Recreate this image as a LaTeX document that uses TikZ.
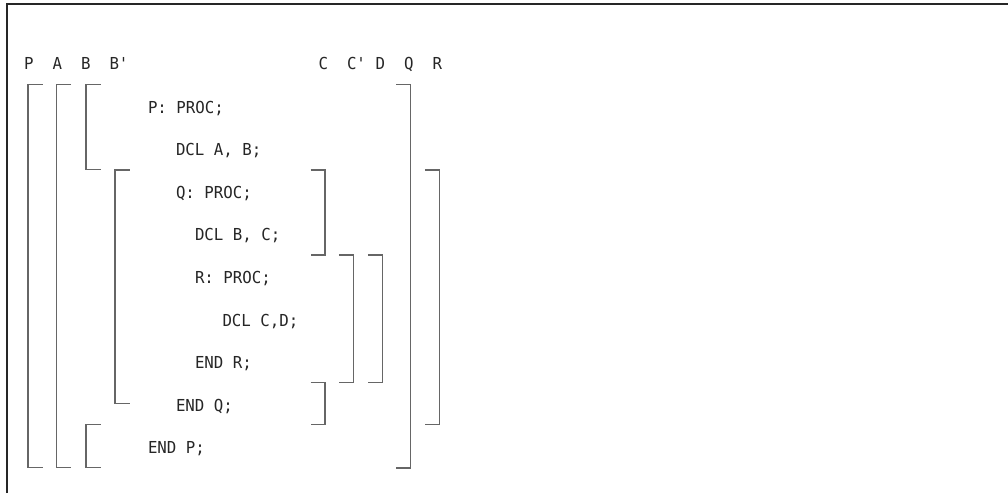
\documentclass[tikz,border=0pt]{standalone}
\usepackage{fontspec}
\newfontfamily\codefont[FakeStretch=0.955]{DejaVu Sans Mono}
\newcommand\LBrk[3]{\draw[brk] (#1+14.5,#2) -- (#1,#2) -- (#1,#3) -- (#1+14.5,#3);}
\newcommand\RBrk[3]{\draw[brk] (#1-14.5,#2) -- (#1,#2) -- (#1,#3) -- (#1-14.5,#3);}
\begin{document}
\begin{tikzpicture}[x=1pt,y=-1pt,
  txt/.style={font=\codefont\fontsize{16.5}{19}\selectfont, text=black!85, inner sep=0pt, outer sep=0pt, anchor=base west},
  brk/.style={draw=black!60, line width=1.3pt},
  frame/.style={draw=black!85, line width=2pt}]
\useasboundingbox (0,0) rectangle (1008,493);
\draw[frame] (7,493) -- (7,4) -- (1008,4);
% column labels
\node[txt] (lP)  at (24,69.8)    {P};
\node[txt] (lA)  at (52.5,69.8)  {A};
\node[txt] (lB)  at (81,69.8)    {B};
\node[txt] (lB2) at (109.5,69.8) {B'};
\node[txt] (lC)  at (318.5,69.8) {C};
\node[txt] (lC2) at (347,69.8)   {C'};
\node[txt] (lD)  at (375.5,69.8) {D};
\node[txt] (lQ)  at (404,69.8)   {Q};
\node[txt] (lR)  at (432.5,69.8) {R};
% code lines
\node[txt] (t1) at (148,113.2)  {P: PROC;};
\node[txt] (t2) at (176,155.8) {DCL A, B;};
\node[txt] (t3) at (176,198.3)  {Q: PROC;};
\node[txt] (t4) at (195,240.8) {DCL B, C;};
\node[txt] (t5) at (195,283.4)  {R: PROC;};
\node[txt] (t6) at (222.5,326) {DCL C,D;};
\node[txt] (t7) at (195,368.7) {END R;};
\node[txt] (t8) at (176,411.5) {END Q;};
\node[txt] (t9) at (148,453.8) {END P;};
% left brackets
\LBrk{28}{84.3}{467.5}
\LBrk{56.7}{84.3}{467.5}
\LBrk{86}{84.3}{169.5}
\LBrk{86}{424.3}{467.5}
\LBrk{115}{170}{403.5}
% right brackets
\RBrk{325}{170}{255}
\RBrk{325}{382.7}{424.3}
\RBrk{353.3}{255}{382.7}
\RBrk{382.3}{255}{382.7}
\RBrk{410.7}{84.3}{468}
\RBrk{439.3}{170}{424.3}
\end{tikzpicture}
\end{document}
